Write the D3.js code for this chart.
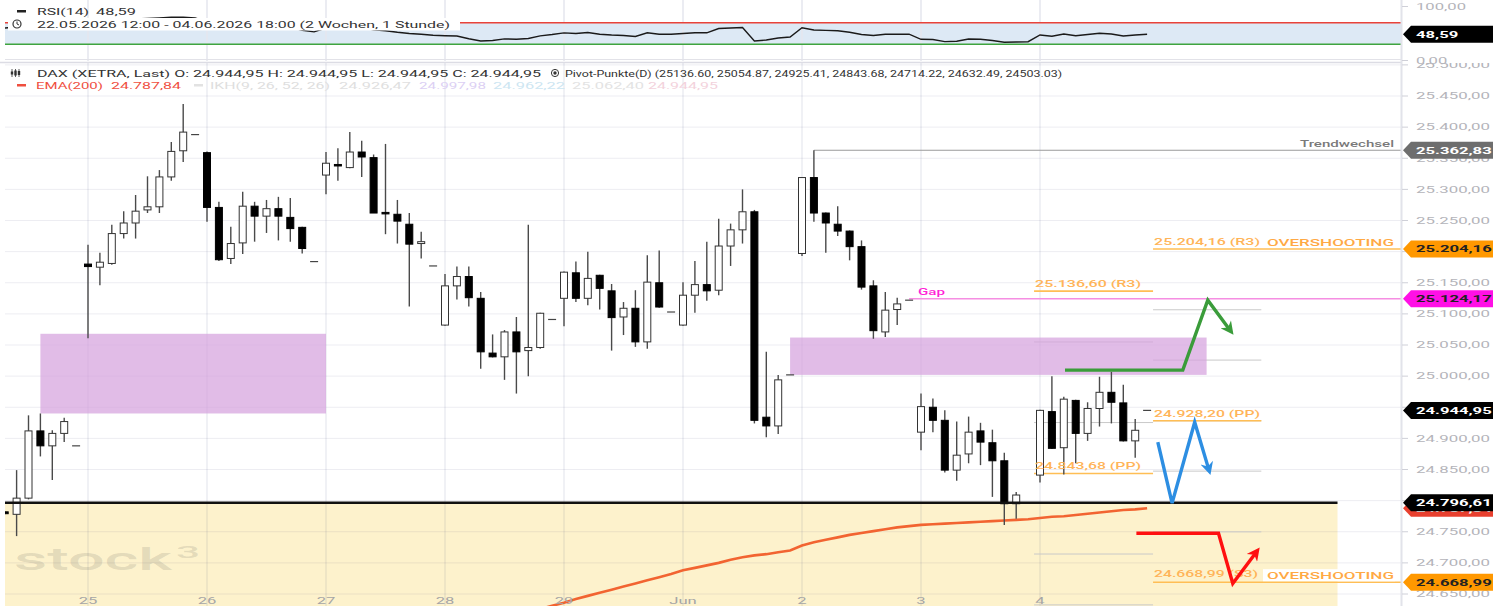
<!DOCTYPE html>
<html>
<head>
<meta charset="utf-8">
<script src="https://d3js.org/d3.v7.min.js"></script>
<style>
  body { margin: 0; background: #fff; }
  svg { display: block; font-family: Roboto, "Noto Sans", sans-serif; }
</style>
</head>
<body>
<svg id="chart" width="1507" height="606"></svg>
<script>
// hourly candles, slot -1 = 22.05 ~11:00, 10 slots per trading day
const firstSlot = -1;
const candles = [
  [24782, 24783, 24778, 24779],
  [24778, 24849, 24743, 24804],
  [24804, 24937, 24802, 24912],
  [24912, 24940, 24871, 24888],
  [24888, 24913, 24833, 24908],
  [24908, 24933, 24894, 24927],
  [24888, 24888, 24888, 24888],
  // 25.
  [25180, 25211, 25061, 25176],
  [25175, 25198, 25146, 25183],
  [25181, 25243, 25179, 25229],
  [25229, 25265, 25221, 25246],
  [25246, 25291, 25221, 25265],
  [25267, 25321, 25262, 25272],
  [25272, 25331, 25262, 25320],
  [25320, 25376, 25314, 25361],
  [25362, 25437, 25344, 25392],
  [25388, 25388, 25388, 25388],
  // 26.
  [25359, 25361, 25248, 25271],
  [25271, 25280, 25185, 25187],
  [25189, 25240, 25180, 25213],
  [25214, 25296, 25196, 25273],
  [25273, 25280, 25216, 25257],
  [25257, 25283, 25230, 25269],
  [25269, 25288, 25218, 25257],
  [25255, 25286, 25216, 25237],
  [25239, 25240, 25197, 25205],
  [25184, 25184, 25184, 25184],
  // 27.
  [25323, 25360, 25292, 25342],
  [25340, 25366, 25314, 25338],
  [25335, 25392, 25334, 25360],
  [25360, 25378, 25320, 25352],
  [25351, 25356, 25262, 25262],
  [25263, 25373, 25228, 25262],
  [25260, 25283, 25213, 25249],
  [25244, 25262, 25112, 25212],
  [25213, 25232, 25189, 25216],
  [25177, 25177, 25177, 25177],
  // 28.
  [25082, 25164, 25081, 25145],
  [25145, 25176, 25123, 25160],
  [25160, 25176, 25112, 25126],
  [25125, 25135, 25012, 25039],
  [25037, 25067, 25030, 25031],
  [25031, 25074, 24994, 25071],
  [25071, 25095, 24972, 25039],
  [25041, 25243, 25000, 25046],
  [25046, 25102, 25044, 25101],
  [25091, 25091, 25091, 25091],
  // 29.
  [25125, 25168, 25080, 25167],
  [25166, 25184, 25119, 25125],
  [25125, 25200, 25114, 25157],
  [25162, 25163, 25107, 25141],
  [25137, 25148, 25041, 25094],
  [25095, 25119, 25066, 25109],
  [25109, 25138, 25047, 25055],
  [25055, 25194, 25044, 25151],
  [25150, 25202, 25110, 25111],
  [25103, 25103, 25103, 25103],
  // Jun 1
  [25082, 25151, 25081, 25130],
  [25130, 25185, 25102, 25147],
  [25147, 25216, 25121, 25137],
  [25138, 25253, 25130, 25209],
  [25209, 25245, 25177, 25235],
  [25235, 25300, 25213, 25264],
  [25264, 25267, 24924, 24929],
  [24934, 25039, 24902, 24920],
  [24920, 25002, 24907, 24994],
  [25002, 25002, 25002, 25002],
  // 2.
  [25197, 25320, 25193, 25319],
  [25319, 25362.83, 25248, 25262],
  [25262, 25263, 25198, 25246],
  [25244, 25273, 25225, 25233],
  [25233, 25234, 25186, 25208],
  [25208, 25218, 25139, 25143],
  [25145, 25154, 25060, 25073],
  [25071, 25135, 25063, 25106],
  [25107, 25126, 25082, 25116],
  [25122, 25122, 25122, 25122],
  // 3.
  [24910, 24972, 24881, 24951],
  [24950, 24964, 24910, 24929],
  [24929, 24945, 24845, 24849],
  [24849, 24927, 24832, 24873],
  [24875, 24935, 24860, 24910],
  [24912, 24925, 24857, 24894],
  [24893, 24914, 24806, 24864],
  [24864, 24877, 24761, 24795],
  [24795, 24814, 24771, 24809],
  null,
  // 4.
  [24841, 24946, 24829, 24945],
  [24943, 25000, 24883, 24884],
  [24885, 24967, 24842, 24963],
  [24961, 24962, 24860, 24908],
  [24908, 24958, 24896, 24948],
  [24948, 24999, 24919, 24974],
  [24974, 25007, 24924, 24958],
  [24957, 24986, 24895, 24896],
  [24896, 24931, 24869, 24913],
  [24944.95, 24944.95, 24944.95, 24944.95]
];

const rsiValues = [
  60, 62, 70, 66, 68, 70, 69,
  74, 74, 75, 76, 77, 78, 79, 80, 80, 79,
  72, 64, 65, 69, 67, 68, 67, 62, 56, 53,
  60, 59, 62, 61, 57, 55.2, 52.2, 50, 48.7, 46.7,
  45.9, 45.4, 40.2, 36.1, 37, 40, 39.3, 40.7, 45.6, 48.1,
  51.1, 50, 51.9, 48.7, 47.2, 46.3, 44.4, 51.3, 48.5, 48.5,
  50, 51.3, 51.3, 59.3, 60.2, 61.1, 36.1, 38, 41.7, 43.5,
  60.6, 56.5, 55.7, 55, 52.2, 48.1, 46.3, 48.5, 48.7, 48.7,
  39.3, 38.9, 35, 35.6, 39.8, 39.4, 37, 33.7, 34.3, 34.8,
  47.2, 45, 49.1, 45.9, 48.1, 50.4, 49.1, 45.4, 47.2, 48.59
];

const emaStartSlot = 43;
const emaValues = [
  24621, 24626, 24631,
  24636, 24642, 24647, 24652, 24657, 24662, 24667, 24672, 24677, 24682,
  24688, 24692, 24696, 24700, 24705, 24709, 24712, 24714, 24717, 24720,
  24728, 24733, 24737, 24741, 24745, 24748, 24751, 24754, 24757, 24759,
  24761, 24762, 24763, 24764, 24765, 24766, 24767, 24768, 24769, 24770,
  24772, 24774, 24775, 24777, 24779, 24781, 24783, 24785, 24786, 24787.84
];

const dayLabels = ["25", "26", "27", "28", "29", "Jun", "2", "3", "4"];
const daySlots = [6, 16, 26, 36, 46, 56, 66, 76, 86];
const priceTicks = [24650, 24700, 24750, 24800, 24850, 24900, 24950, 25000, 25050,
                    25100, 25150, 25200, 25250, 25300, 25350, 25400, 25450, 25500];
const rsiTicks = [0, 100];

// zones: [slotFrom, slotTo, low, high]
const purpleZones = [[2, 26, 24940, 25068], [65, 100, 25002, 25062]];
const supportLevel = 24796.61;
const supportEndSlot = 111;
const trendLevel = 25362.83;
const gapLevel = 25124.17;
const lastPrice = 24944.95;

// Pivot-Punkte (D): R3, R2, R1, PP, S1, S2, S3
const pivotsDay4 = [25136.60, 25054.87, 24925.41, 24843.68, 24714.22, 24632.49, 24503.03];
const pivotsNext = [25204.16, 25106.59, 25025.77, 24928.20, 24847.38, 24749.81, 24668.99];

// scenario arrows: [slot, price]
const scenarioUp = [[88.1, 25009.6], [98.0, 25009.6], [100.1, 25122], [102.0, 25073]];
const scenarioMid = [[95.9, 24894], [97.1, 24796], [99.0, 24926], [100.2, 24849]];
const scenarioDown = [[94.1, 24747.5], [101.0, 24747.5], [102.2, 24667], [104.2, 24718]];

const svg = d3.select("#chart");
const plotLeft = 5, plotRight = 1401;

const x = d3.scaleLinear().domain([6, 86]).range([88, 1040]);
const y = d3.scaleLinear().domain([24650, 25450]).range([594, 96]);
const yR = d3.scaleLinear().domain([0, 100]).range([60.5, 6.5]);

const de = d3.formatLocale({decimal: ",", thousands: ".", grouping: [3], currency: ["", ""]});
const fmt = de.format(",.2f");

const SX = 1.75;
function txt(g, s, tx, ty, w, o = {}) {
  const t = g.append("text").attr("x", tx).attr("y", ty).text(s)
    .attr("font-size", o.size || 9.5)
    .attr("fill", o.fill || "#333")
    .attr("font-weight", o.weight || 400);
  if (o.anchor) t.attr("text-anchor", o.anchor);
  if (o.dy) t.attr("dy", o.dy);
  if (w === "auto") w = t.node().getComputedTextLength() * SX;
  if (w) t.attr("textLength", w).attr("lengthAdjust", "spacingAndGlyphs");
  return t;
}

const defs = svg.append("defs");
defs.append("clipPath").attr("id", "clipMain").append("rect")
  .attr("x", plotLeft).attr("y", 63).attr("width", plotRight - plotLeft).attr("height", 543);
defs.append("clipPath").attr("id", "clipRsi").append("rect")
  .attr("x", plotLeft).attr("y", 0).attr("width", plotRight - plotLeft).attr("height", 61);
defs.append("clipPath").attr("id", "clipAxis").append("rect")
  .attr("x", 1402).attr("y", 63).attr("width", 105).attr("height", 543);

// ---------- RSI panel ----------
const rsiG = svg.append("g").attr("clip-path", "url(#clipRsi)");
rsiG.append("rect").attr("x", plotLeft).attr("width", plotRight - plotLeft)
  .attr("y", yR(70)).attr("height", yR(30) - yR(70)).attr("fill", "#dde9f5");
rsiG.selectAll("line.vg").data(daySlots).join("line")
  .attr("x1", d => x(d)).attr("x2", d => x(d)).attr("y1", 0).attr("y2", 61)
  .attr("stroke", "#e4e6ee").attr("stroke-width", 1.5);
rsiG.append("line").attr("x1", plotLeft).attr("x2", plotRight).attr("y1", yR(70)).attr("y2", yR(70))
  .attr("stroke", "#e8433a").attr("stroke-width", 1.5);
rsiG.append("line").attr("x1", plotLeft).attr("x2", plotRight).attr("y1", yR(30)).attr("y2", yR(30))
  .attr("stroke", "#3fa43f").attr("stroke-width", 1.5);
rsiG.append("line").attr("x1", plotLeft).attr("x2", plotRight).attr("y1", 59.5).attr("y2", 59.5)
  .attr("stroke", "#e2e2e8").attr("stroke-width", 1);
rsiG.append("path")
  .datum(rsiValues.map((v, k) => [k + firstSlot, v]))
  .attr("d", d3.line().x(d => x(d[0])).y(d => yR(d[1])))
  .attr("fill", "none").attr("stroke", "#1a1a1a").attr("stroke-width", 1.4);

// header lines in RSI panel
const hdr = svg.append("g");
hdr.append("rect").attr("x", 8).attr("y", 18).attr("width", 452).attr("height", 12.5).attr("fill", "#fff");
hdr.append("rect").attr("x", 17).attr("y", 10).attr("width", 9).attr("height", 2.5).attr("fill", "#222");
txt(hdr, "RSI(14)", 37, 14.5, 52);
txt(hdr, "48,59", 96, 14.5, 40);
hdr.append("circle").attr("cx", 17).attr("cy", 24).attr("r", 4).attr("fill", "none").attr("stroke", "#333").attr("stroke-width", 1.2);
hdr.append("path").attr("d", "M17,21.5 L17,24 L19,25").attr("fill", "none").attr("stroke", "#333").attr("stroke-width", 1);
txt(hdr, "22.05.2026 12:00 - 04.06.2026 18:00  (2 Wochen, 1 Stunde)", 37, 27.5, 413);

// panel separator
svg.append("line").attr("x1", 0).attr("x2", plotRight).attr("y1", 62.5).attr("y2", 62.5)
  .attr("stroke", "#dcdce4").attr("stroke-width", 1.5);

// ---------- main panel ----------
const main = svg.append("g").attr("clip-path", "url(#clipMain)");

main.append("rect")
  .attr("x", plotLeft).attr("width", x(supportEndSlot) - plotLeft)
  .attr("y", y(supportLevel)).attr("height", 606 - y(supportLevel))
  .attr("fill", "#fdf2cc");

main.selectAll("line.hg").data(priceTicks).join("line")
  .attr("x1", plotLeft).attr("x2", plotRight).attr("y1", d => y(d)).attr("y2", d => y(d))
  .attr("stroke", "rgba(60,60,110,0.09)").attr("stroke-width", 1);
main.selectAll("line.vg").data(daySlots).join("line")
  .attr("x1", d => x(d)).attr("x2", d => x(d)).attr("y1", 63).attr("y2", 606)
  .attr("stroke", "rgba(60,70,130,0.1)").attr("stroke-width", 1.5);

// watermark
txt(main, "stock", 14, 570, 158, {size: 32, fill: "rgba(120,120,110,0.2)", weight: 500});
txt(main, "3", 176, 558, 24, {size: 17, fill: "rgba(120,120,110,0.2)", weight: 500});

// pivot lines
const pivotNames = ["R3", "R2", "R1", "PP", "S1", "S2", "S3"];
const orangeLine = "#ffbe55", orangeText = "#ffb458";
function pivotSet(levels, s0, s1, labelled) {
  levels.forEach((v, k) => {
    const lab = labelled.includes(pivotNames[k]);
    main.append("line").attr("x1", x(s0)).attr("x2", x(s1)).attr("y1", y(v)).attr("y2", y(v))
      .attr("stroke", lab ? orangeLine : "#c9c9c9").attr("stroke-width", lab ? 1.6 : 1);
  });
}
pivotSet(pivotsDay4, 85.5, 95.5, ["R3", "PP"]);
pivotSet(pivotsNext.slice(1, 6), 95.5, 104.6, []);
main.append("line").attr("x1", x(95.5)).attr("x2", x(104.6))
  .attr("y1", y(pivotsNext[3])).attr("y2", y(pivotsNext[3]))
  .attr("stroke", orangeLine).attr("stroke-width", 1.6);
[pivotsNext[0], pivotsNext[6]].forEach(v => {
  main.append("line").attr("x1", x(95.5)).attr("x2", plotRight).attr("y1", y(v)).attr("y2", y(v))
    .attr("stroke", orangeLine).attr("stroke-width", 1.6);
});

// zones
main.selectAll("rect.zone").data(purpleZones).join("rect")
  .attr("x", d => x(d[0])).attr("width", d => x(d[1]) - x(d[0]))
  .attr("y", d => y(d[3])).attr("height", d => y(d[2]) - y(d[3]))
  .attr("fill", "#d6a2de").attr("opacity", 0.72);

// EMA
main.append("path")
  .datum(emaValues.map((v, k) => [k + emaStartSlot, v]))
  .attr("d", d3.line().x(d => x(d[0])).y(d => y(d[1])))
  .attr("fill", "none").attr("stroke", "#f26431").attr("stroke-width", 2.6);

// trend / gap lines
main.append("line").attr("x1", x(67)).attr("x2", plotRight).attr("y1", y(trendLevel)).attr("y2", y(trendLevel))
  .attr("stroke", "#9a9a9a").attr("stroke-width", 1);
txt(main, "Trendwechsel", 1394, y(trendLevel) - 3, 94, {anchor: "end", fill: "#7a7a7a", weight: 500});
main.append("line").attr("x1", x(75)).attr("x2", plotRight).attr("y1", y(gapLevel)).attr("y2", y(gapLevel))
  .attr("stroke", "#f58ee2").attr("stroke-width", 1.5);
txt(main, "Gap", 918, y(gapLevel) - 4, 27, {fill: "#ff1fd8", weight: 500});

// candles
const bars = candles.map((d, k) => d && {i: k + firstSlot, o: d[0], h: d[1], l: d[2], c: d[3]}).filter(Boolean);
const flat = bars.filter(d => d.h === d.l);
const real = bars.filter(d => d.h !== d.l);
main.selectAll("line.dash").data(flat).join("line")
  .attr("x1", d => x(d.i) - 4).attr("x2", d => x(d.i) + 4)
  .attr("y1", d => y(d.c)).attr("y2", d => y(d.c))
  .attr("stroke", "#444").attr("stroke-width", 1.2);
main.selectAll("line.wick").data(real).join("line")
  .attr("x1", d => x(d.i)).attr("x2", d => x(d.i))
  .attr("y1", d => y(d.h)).attr("y2", d => y(d.l))
  .attr("stroke", "#4a4a4a").attr("stroke-width", 1.4);
main.selectAll("rect.body").data(real).join("rect")
  .attr("x", d => x(d.i) - 3.5).attr("width", 7)
  .attr("y", d => y(Math.max(d.o, d.c)))
  .attr("height", d => Math.max(1.5, Math.abs(y(d.o) - y(d.c))))
  .attr("fill", d => d.c < d.o ? "#000" : "#fff")
  .attr("stroke", d => d.c < d.o ? "#000" : "#333").attr("stroke-width", 1);

// support line
main.append("line").attr("x1", plotLeft).attr("x2", x(supportEndSlot))
  .attr("y1", y(supportLevel)).attr("y2", y(supportLevel))
  .attr("stroke", "#111").attr("stroke-width", 2.5);

// pivot labels
txt(main, fmt(pivotsDay4[0]) + " (R3)", x(85.5) + 1, y(pivotsDay4[0]) - 4, 106, {fill: orangeText, weight: 500});
txt(main, fmt(pivotsDay4[3]) + " (PP)", x(85.5) + 1, y(pivotsDay4[3]) - 4, 106, {fill: orangeText, weight: 500});
txt(main, fmt(pivotsNext[0]) + " (R3)", x(95.5) + 1, y(pivotsNext[0]) - 4, 106, {fill: orangeText, weight: 500});
txt(main, fmt(pivotsNext[3]) + " (PP)", x(95.5) + 1, y(pivotsNext[3]) - 4, 106, {fill: orangeText, weight: 500});
txt(main, fmt(pivotsNext[6]) + " (S3)", x(95.5) + 1, y(pivotsNext[6]) - 5, 104, {fill: orangeText, weight: 500});
main.append("rect").attr("x", 1263).attr("y", y(pivotsNext[6]) - 13).attr("width", 132).attr("height", 12).attr("fill", "#fff");
txt(main, "OVERSHOOTING", 1267, y(pivotsNext[0]) - 3, 127, {fill: "#ffa944", weight: 500});
txt(main, "OVERSHOOTING", 1267, y(pivotsNext[6]) - 3, 127, {fill: "#ffa944", weight: 500});

// scenario arrows
const arrowLine = d3.line().x(d => x(d[0])).y(d => y(d[1]));
[["up", scenarioUp, "#3a9c3a"], ["mid", scenarioMid, "#2d8ee2"], ["down", scenarioDown, "#ff1010"]]
  .forEach(([id, pts, col]) => {
    defs.append("marker").attr("id", "ah-" + id).attr("viewBox", "0 0 10 10")
      .attr("refX", 6).attr("refY", 5).attr("markerWidth", 15).attr("markerHeight", 13)
      .attr("markerUnits", "userSpaceOnUse").attr("orient", "auto")
      .append("path").attr("d", "M0,0 L10,5 L0,10 L3,5 Z").attr("fill", col);
    main.append("path").datum(pts).attr("d", arrowLine)
      .attr("fill", "none").attr("stroke", col).attr("stroke-width", 3.4)
      .attr("stroke-linejoin", "miter").attr("marker-end", `url(#ah-${id})`);
  });

// x labels
main.selectAll("text.day").data(dayLabels).join("text")
  .attr("x", (d, k) => x(daySlots[k])).attr("y", 604)
  .attr("text-anchor", "middle").attr("font-size", 9.5).attr("fill", "#a6a6a6")
  .text(d => d)
  .each(function () {
    const w = this.getComputedTextLength() * SX;
    d3.select(this).attr("textLength", w).attr("lengthAdjust", "spacingAndGlyphs");
  });

// ---------- right axis ----------
const tagLevels = [trendLevel, pivotsNext[0], gapLevel, lastPrice,
                   emaValues[emaValues.length - 1], supportLevel, pivotsNext[6]];
const axisG = svg.append("g");
axisG.append("line").attr("x1", plotRight + 0.5).attr("x2", plotRight + 0.5).attr("y1", 0).attr("y2", 606)
  .attr("stroke", "#e2e3ea").attr("stroke-width", 2);
const axisMain = axisG.append("g").attr("clip-path", "url(#clipAxis)");
priceTicks.forEach(v => {
  axisMain.append("line").attr("x1", 1402).attr("x2", 1408).attr("y1", y(v)).attr("y2", y(v))
    .attr("stroke", "#cfd0d8").attr("stroke-width", 1);
  // labels fully covered by a price tag are not visible
  if (tagLevels.some(t => Math.abs(y(t) - y(v)) < 5)) return;
  txt(axisMain, fmt(v), 1416, y(v), 74, {fill: "#b4b4ba", dy: "0.35em"});
});
rsiTicks.forEach(v => {
  axisG.append("line").attr("x1", 1402).attr("x2", 1408).attr("y1", yR(v)).attr("y2", yR(v))
    .attr("stroke", "#cfd0d8").attr("stroke-width", 1);
  txt(axisG, fmt(v), 1416, yR(v), "auto", {fill: "#b4b4ba", dy: "0.35em"});
});

function tag(yy, label, bg, fg) {
  const g = axisG.append("g").attr("transform", `translate(1403,${yy})`);
  g.append("path").attr("d", "M0,0 L8,-8.5 L90,-8.5 L90,8.5 L8,8.5 Z").attr("fill", bg);
  txt(g, label, 13, 0, "auto", {fill: fg, weight: 700, dy: "0.36em"});
}
tag(yR(rsiValues[rsiValues.length - 1]), "48,59", "#000", "#fff");
tag(y(trendLevel), fmt(trendLevel), "#6e6e6e", "#fff");
tag(y(pivotsNext[0]), fmt(pivotsNext[0]), "#ff9800", "#222");
tag(y(gapLevel), fmt(gapLevel), "#ff10e6", "#222");
tag(y(lastPrice), fmt(lastPrice), "#000", "#fff");
tag(y(emaValues[emaValues.length - 1]), fmt(emaValues[emaValues.length - 1]), "#e8402f", "#fff");
tag(y(supportLevel), fmt(supportLevel), "#000", "#fff");
tag(y(pivotsNext[6]), fmt(pivotsNext[6]), "#ff9800", "#222");

// ---------- main header ----------
const h2 = svg.append("g");
[[12, 3], [15.5, 5], [19, 4]].forEach(([bx, bh]) => {
  h2.append("line").attr("x1", bx).attr("x2", bx).attr("y1", 69).attr("y2", 77).attr("stroke", "#333").attr("stroke-width", 0.8);
  h2.append("rect").attr("x", bx - 1.2).attr("y", 73 - bh / 2).attr("width", 2.4).attr("height", bh).attr("fill", "#333");
});
txt(h2, "DAX (XETRA, Last)  O: 24.944,95  H: 24.944,95  L: 24.944,95  C: 24.944,95", 37, 76.5, 504);
h2.append("circle").attr("cx", 555).attr("cy", 73).attr("r", 3.6).attr("fill", "none").attr("stroke", "#333").attr("stroke-width", 1);
h2.append("circle").attr("cx", 555).attr("cy", 73).attr("r", 1.7).attr("fill", "#333");
txt(h2, "Pivot-Punkte(D) (" + pivotsDay4.map(v => v.toFixed(2)).join(", ") + ")", 565, 76.5, 497);

h2.append("rect").attr("x", 17).attr("y", 84).attr("width", 9).attr("height", 2.5).attr("fill", "#ef4f3f");
txt(h2, "EMA(200)", 36, 88.5, 67, {fill: "#ef4f3f"});
txt(h2, fmt(emaValues[emaValues.length - 1]), 111, 88.5, 70, {fill: "#ef4f3f"});
h2.append("rect").attr("x", 194).attr("y", 84).attr("width", 9).attr("height", 2.5).attr("fill", "#e2e2e2");
txt(h2, "IKH(9, 26, 52, 26)", 210, 88.5, 120, {fill: "#dedede"});
txt(h2, "24.926,47", 339, 88.5, 72, {fill: "#e0e0e0"});
txt(h2, "24.997,98", 419, 88.5, 67, {fill: "#dcd0f4"});
txt(h2, "24.962,22", 493, 88.5, 72, {fill: "#cde6f2"});
txt(h2, "25.062,40", 572, 88.5, 72, {fill: "#e3e3e3"});
txt(h2, "24.944,95", 648, 88.5, 70, {fill: "#f3d2dc"});
</script>
</body>
</html>
